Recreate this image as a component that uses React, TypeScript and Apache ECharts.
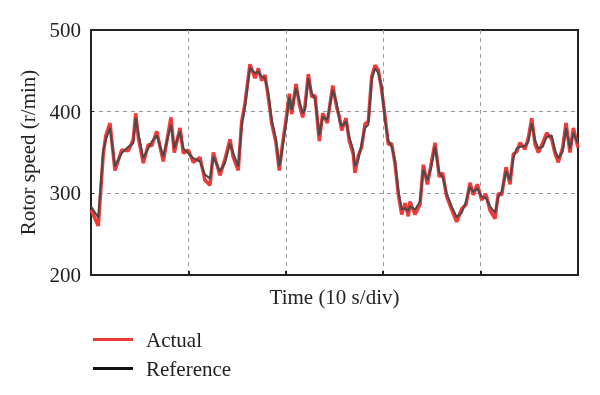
import React, { useEffect, useRef } from "react";
import * as echarts from "echarts";

const timeSec = [
  0, 0.75, 1.26, 1.51, 1.95, 2.46, 3.15, 3.83, 4.34, 4.59,
  4.86, 5.37, 5.88, 6.23, 6.75, 7.42, 8.21, 8.55, 9.14, 9.48,
  9.99, 10.5, 11.19, 11.7, 12.22, 12.56, 13.24, 13.76, 14.27, 14.61,
  15.12, 15.47, 15.81, 16.32, 16.84, 17.18, 17.52, 17.86, 18.2, 18.55,
  18.99, 19.33, 19.68, 20.09, 20.36, 20.6, 21.05, 21.39, 21.73, 21.97,
  22.31, 22.66, 23.0, 23.44, 23.79, 24.26, 24.82, 25.23, 25.49, 25.74,
  26.18, 26.52, 26.93, 27.1, 27.44, 27.79, 28.13, 28.47, 28.82, 29.16,
  29.5, 29.85, 30.18, 30.52, 30.87, 31.21, 31.55, 31.9, 32.24, 32.58,
  32.75, 33.26, 33.78, 34.12, 34.53, 34.88, 35.32, 35.76, 36.1, 36.52,
  37.03, 37.54, 38.06, 38.5, 38.91, 39.25, 39.66, 40.11, 40.55, 40.97,
  41.48, 41.82, 42.17, 42.61, 43.02, 43.36, 43.71, 44.05, 44.56, 44.9,
  45.25, 45.59, 45.93, 46.38, 46.79, 47.3, 47.64, 47.98, 48.43, 48.77,
  49.18, 49.52, 50,
];

const referenceRpm = [
  284, 270, 353, 365, 380, 333, 349, 357, 361, 392,
  374, 343, 355, 363, 371, 345, 384, 355, 376, 355,
  349, 343, 339, 323, 318, 345, 327, 337, 361, 349,
  333, 382, 406, 454, 447, 449, 443, 441, 423, 390,
  367, 333, 357, 390, 418, 402, 429, 414, 398, 402,
  441, 423, 416, 371, 394, 390, 427, 410, 390, 382,
  388, 369, 353, 333, 341, 361, 380, 384, 439, 453,
  447, 431, 390, 365, 357, 341, 304, 280, 282, 278,
  284, 280, 290, 329, 316, 329, 357, 325, 320, 300,
  284, 271, 276, 290, 308, 302, 306, 296, 294, 284,
  276, 296, 302, 327, 316, 343, 355, 357, 358, 363,
  386, 365, 355, 357, 369, 371, 353, 343, 351, 380,
  355, 374, 361,
];

const actualRpm = [
  280, 260, 348, 370, 386, 328, 353, 352, 366, 398,
  368, 337, 360, 358, 376, 339, 393, 350, 380, 349,
  353, 338, 344, 316, 310, 350, 322, 342, 366, 344,
  328, 388, 410, 458, 441, 453, 438, 445, 418, 386,
  362, 328, 362, 396, 422, 397, 434, 409, 393, 407,
  446, 418, 420, 364, 398, 386, 432, 405, 394, 377,
  392, 364, 348, 325, 346, 357, 385, 388, 443, 457,
  451, 426, 395, 360, 361, 336, 299, 274, 288, 272,
  290, 274, 286, 335, 311, 333, 362, 320, 325, 296,
  280, 265, 281, 286, 313, 298, 311, 292, 299, 279,
  269, 300, 298, 332, 311, 348, 351, 362, 354, 368,
  392, 360, 350, 362, 374, 366, 349, 338, 356, 386,
  350, 380, 356,
];

const yTicks = [200, 300, 400, 500];
const xRange = [0, 50];

const FONT = "'Liberation Serif', 'DejaVu Serif', serif";

export default function App() {
  const ref = useRef<HTMLDivElement>(null);
  useEffect(() => {
    if (!ref.current) return;
    const chart = echarts.init(ref.current, null, { renderer: "svg" });
    const refData = timeSec.map((t, i) => [t, referenceRpm[i]]);
    const actData = timeSec.map((t, i) => [t, actualRpm[i]]);
    chart.setOption({
      animation: false,
      grid: {
        left: 91,
        top: 30,
        right: 22,
        bottom: 120,
        show: true,
        borderColor: "#222",
        borderWidth: 2,
        backgroundColor: "transparent",
      },
      legend: {
        orient: "vertical",
        left: 88,
        top: 324,
        icon: "rect",
        itemWidth: 40,
        itemHeight: 3,
        itemGap: 8,
        textStyle: { fontFamily: FONT, fontSize: 21, color: "#222", padding: [0, 0, 0, 8] },
        data: [
          { name: "Actual", itemStyle: { color: "#f03a3a" } },
          { name: "Reference", itemStyle: { color: "#111" } },
        ],
      },
      xAxis: {
        type: "value",
        min: xRange[0],
        max: xRange[1],
        interval: 10,
        name: "Time (10 s/div)",
        nameLocation: "middle",
        nameGap: 11,
        nameTextStyle: { fontFamily: FONT, fontSize: 21, color: "#222" },
        axisLine: { show: false },
        axisTick: { show: true, inside: true, length: 4, lineStyle: { color: "#222", width: 2 } },
        axisLabel: { show: false },
        splitLine: {
          show: true,
          showMinLine: false,
          showMaxLine: false,
          lineStyle: { type: [4, 4], color: "#999", width: 1 },
        },
      },
      yAxis: {
        type: "value",
        min: yTicks[0],
        max: yTicks[yTicks.length - 1],
        interval: 100,
        name: "Rotor speed (r/min)",
        nameLocation: "middle",
        nameGap: 49,
        nameTextStyle: { fontFamily: FONT, fontSize: 21, color: "#222" },
        axisLine: { show: false },
        axisTick: { show: true, inside: true, length: 3, lineStyle: { color: "#222", width: 1 } },
        axisLabel: { fontFamily: FONT, fontSize: 21, color: "#222", margin: 10 },
        splitLine: {
          show: true,
          showMinLine: false,
          showMaxLine: false,
          lineStyle: { type: [4, 4], color: "#999", width: 1 },
        },
      },
      series: [
        {
          name: "Actual",
          type: "line",
          data: actData,
          showSymbol: false,
          symbol: "none",
          lineStyle: { color: "#f03a3a", width: 3.5 },
          itemStyle: { color: "#f03a3a" },
          z: 2,
        },
        {
          name: "Reference",
          type: "line",
          data: refData,
          showSymbol: false,
          symbol: "none",
          lineStyle: { color: "#4a4a4a", width: 2 },
          itemStyle: { color: "#111" },
          z: 3,
        },
      ],
    });
    return () => chart.dispose();
  }, []);
  return (
    <div
      ref={ref}
      style={{ position: "fixed", left: 0, top: 0, width: 600, height: 395 }}
    />
  );
}
